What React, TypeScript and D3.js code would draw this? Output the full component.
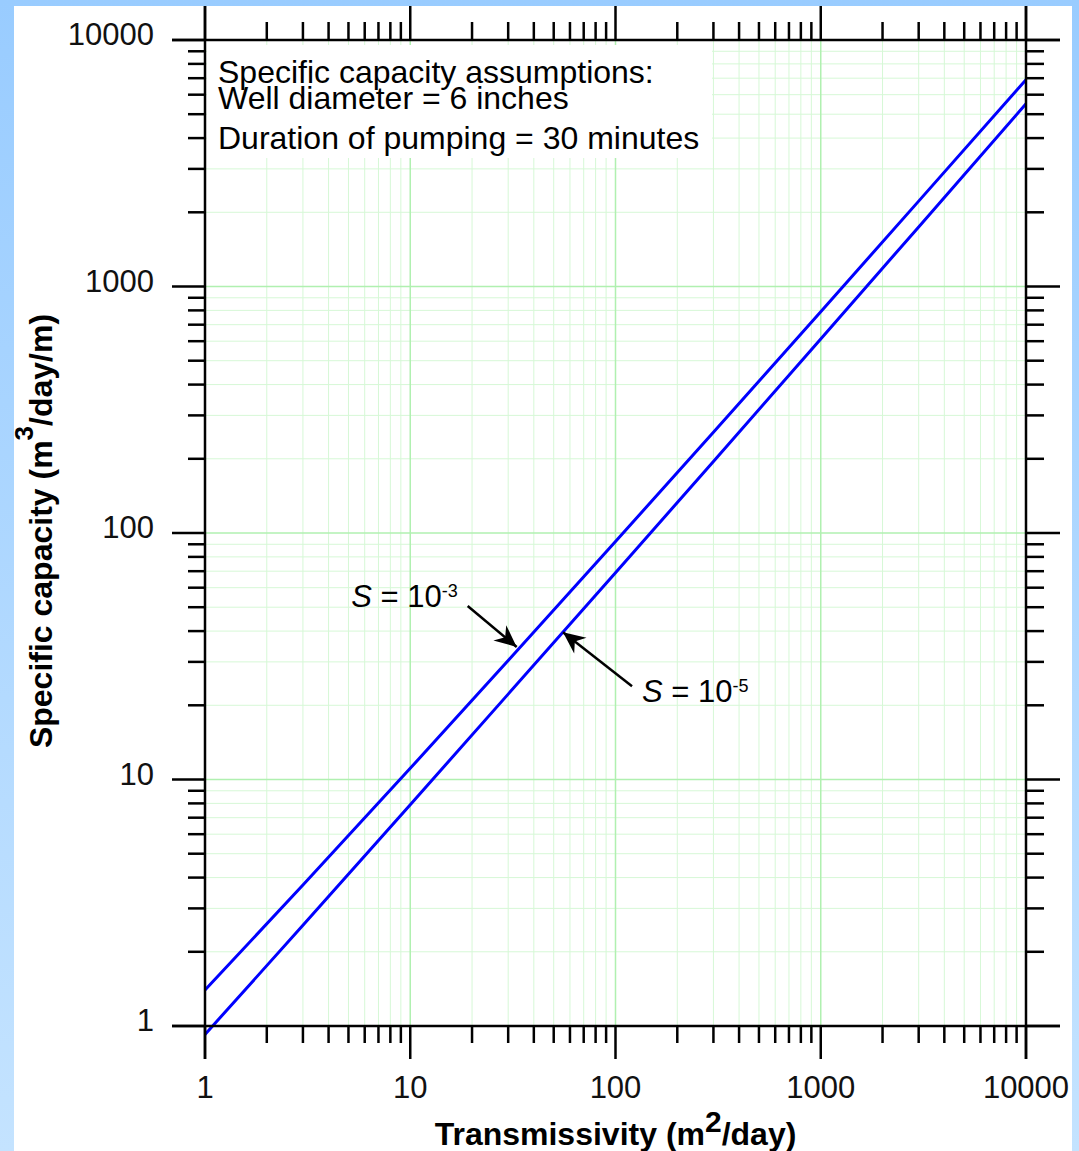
import * as d3 from 'd3'

// values (Cooper-Jacob style specific capacity curves)
const transmissivity = [1, 3, 10, 30, 100, 300, 1000, 3000, 10000]
const capacityS3 = [1.4, 3.73, 11.1, 30.4, 92.4, 256, 790, 2220, 6900]
const capacityS5 = [0.924, 2.56, 7.9, 22.2, 69.0, 195, 613, 1745, 5510]

const decadeTicks = [1, 10, 100, 1000, 10000]
const decadeLabels = ['1', '10', '100', '1000', '10000']
const minorSteps = [2, 3, 4, 5, 6, 7, 8, 9]

const noteLines = [
  'Specific capacity assumptions:',
  'Well diameter = 6 inches',
  'Duration of pumping = 30 minutes',
]

// arrow tips sit on the curves (data units); text is placed relative to the arrow tail
const curveNotes = [
  { exp: '-3', T: 33, Sc: 34.5, dx: -49, dy: -41, anchor: 'end', tx: -10, ty: 1 },
  { exp: '-5', T: 55.5, Sc: 39.6, dx: 69, dy: 54, anchor: 'start', tx: 10, ty: 16 },
]

const W = 1079
const H = 1151
const FONT = 'Liberation Sans, Arial, Helvetica, sans-serif'

export default function App() {
  const margin = { left: 205, right: 1026, top: 40, bottom: 1026 }

  const x = d3.scaleLog().domain([1, 10000]).range([margin.left, margin.right])
  const y = d3.scaleLog().domain([1, 10000]).range([margin.bottom, margin.top])

  const minorTicks: number[] = []
  decadeTicks.slice(0, -1).forEach(d => minorSteps.forEach(s => minorTicks.push(d * s)))

  const line = d3.line<number>()
    .x((_, i) => x(transmissivity[i]))
    .y(d => y(d))

  const axisW = 2.5
  const outerTop = 6
  const outerBottom = 1059
  const outerLeft = 172
  const outerRight = 1060

  return (
    <svg
      width={W}
      height={H}
      style={{ position: 'absolute', left: 0, top: 0, display: 'block' }}
      fontFamily={FONT}
    >
      <defs>
        <linearGradient id="bg" x1="0" y1="0" x2="0" y2="1">
          <stop offset="0%" stopColor="#99ccff" />
          <stop offset="100%" stopColor="#c4e3ff" />
        </linearGradient>
        <marker
          id="barb"
          viewBox="-24 -11 26 22"
          markerWidth={26}
          markerHeight={22}
          refX={0}
          refY={0}
          orient="auto"
          markerUnits="userSpaceOnUse"
        >
          <path d="M0,0 L-22,-10 L-15,0 L-22,10 Z" fill="#000" />
        </marker>
      </defs>

      <rect x={0} y={0} width={W} height={H} fill="url(#bg)" />
      <rect x={14} y={6} width={1058} height={H - 6} fill="#fff" />

      {/* grid */}
      <g>
        {minorTicks.map(t => (
          <line key={'vx' + t} x1={x(t)} x2={x(t)} y1={margin.top} y2={margin.bottom}
            stroke="#d6f8d6" strokeWidth={1} />
        ))}
        {minorTicks.map(t => (
          <line key={'hy' + t} x1={margin.left} x2={margin.right} y1={y(t)} y2={y(t)}
            stroke="#d6f8d6" strokeWidth={1} />
        ))}
        {decadeTicks.map(t => (
          <line key={'VX' + t} x1={x(t)} x2={x(t)} y1={margin.top} y2={margin.bottom}
            stroke="#b0f0b0" strokeWidth={1.5} />
        ))}
        {decadeTicks.map(t => (
          <line key={'HY' + t} x1={margin.left} x2={margin.right} y1={y(t)} y2={y(t)}
            stroke="#b0f0b0" strokeWidth={1.5} />
        ))}
      </g>

      {/* assumptions box */}
      <rect x={207} y={45} width={505} height={113} fill="#fff" />
      <g fontSize={32} fill="#000">
        <text x={218} y={83}>{noteLines[0]}</text>
        <text x={218} y={109}>{noteLines[1]}</text>
        <text x={218} y={149}>{noteLines[2]}</text>
      </g>

      {/* curves */}
      <path d={line(capacityS3) || ''} fill="none" stroke="#0000ff" strokeWidth={3} />
      <path d={line(capacityS5) || ''} fill="none" stroke="#0000ff" strokeWidth={3} />

      {/* axes frame */}
      <g stroke="#000" strokeWidth={axisW}>
        <line x1={margin.left} x2={margin.left} y1={outerTop} y2={outerBottom} />
        <line x1={margin.right} x2={margin.right} y1={outerTop} y2={outerBottom} />
        <line x1={outerLeft} x2={outerRight} y1={margin.top} y2={margin.top} />
        <line x1={outerLeft} x2={outerRight} y1={margin.bottom} y2={margin.bottom} />

        {/* major ticks */}
        {decadeTicks.map(t => (
          <g key={'mt' + t}>
            <line x1={x(t)} x2={x(t)} y1={outerTop} y2={margin.top} />
            <line x1={x(t)} x2={x(t)} y1={margin.bottom} y2={outerBottom} />
            <line x1={outerLeft} x2={margin.left} y1={y(t)} y2={y(t)} />
            <line x1={margin.right} x2={outerRight} y1={y(t)} y2={y(t)} />
          </g>
        ))}
        {/* minor ticks */}
        {minorTicks.map(t => (
          <g key={'nt' + t}>
            <line x1={x(t)} x2={x(t)} y1={22} y2={margin.top} />
            <line x1={x(t)} x2={x(t)} y1={margin.bottom} y2={1043} />
            <line x1={188} x2={margin.left} y1={y(t)} y2={y(t)} />
            <line x1={margin.right} x2={1044} y1={y(t)} y2={y(t)} />
          </g>
        ))}
      </g>

      {/* tick labels */}
      <g fontSize={31} fill="#111">
        {decadeTicks.map((t, i) => (
          <text key={'xl' + t} x={x(t)} y={1098} textAnchor="middle">{decadeLabels[i]}</text>
        ))}
        {decadeTicks.map((t, i) => (
          <text key={'yl' + t} x={154} y={y(t) + 5} textAnchor="end">{decadeLabels[i]}</text>
        ))}
      </g>

      {/* axis titles */}
      <text x={(margin.left + margin.right) / 2} y={1145} textAnchor="middle"
        fontSize={32} fontWeight="bold" fill="#000">
        Transmissivity (m<tspan fontSize={30} dy={-13}>2</tspan><tspan dy={13}>/day)</tspan>
      </text>
      <text transform={`translate(52,${(margin.top + margin.bottom) / 2 - 2}) rotate(-90)`}
        textAnchor="middle" fontSize={32} fontWeight="bold" fill="#000">
        Specific capacity (m<tspan fontSize={26} dy={-19}>3</tspan><tspan dy={19}>/day/m)</tspan>
      </text>

      {/* curve annotations */}
      {curveNotes.map(n => {
        const tipX = x(n.T)
        const tipY = y(n.Sc)
        const tailX = tipX + n.dx
        const tailY = tipY + n.dy
        return (
          <g key={n.exp}>
            <line x1={tailX} y1={tailY} x2={tipX} y2={tipY} stroke="#000" strokeWidth={2.5}
              markerEnd="url(#barb)" />
            <text x={tailX + n.tx} y={tailY + n.ty} textAnchor={n.anchor as any} fontSize={31} fill="#000">
              <tspan fontStyle="italic">S</tspan> = 10<tspan fontSize={18} dy={-10}>{n.exp}</tspan>
            </text>
          </g>
        )
      })}
    </svg>
  )
}
